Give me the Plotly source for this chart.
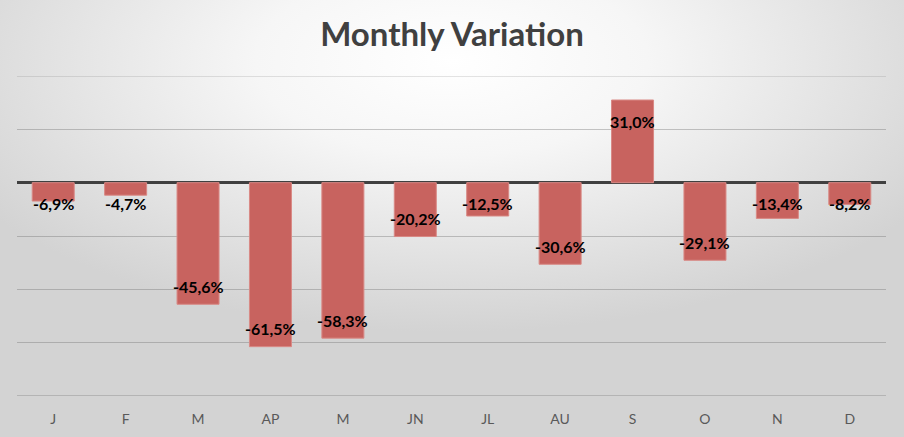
import base64
import plotly.graph_objects as go

# ---- data ----
months = ["J", "F", "M", "AP", "M", "JN", "JL", "AU", "S", "O", "N", "D"]
variation = [-6.9, -4.7, -45.6, -61.5, -58.3, -20.2, -12.5, -30.6, 31.0, -29.1, -13.4, -8.2]
y_range = [-80, 40]
y_ticks = [-80, -60, -40, -20, 0, 20, 40]

W, H = 904, 437
ML, MR, MT, MB = 17, 18, 76, 41
PW, PH = W - ML - MR, H - MT - MB
ppu = PH / (y_range[1] - y_range[0])  # pixels per percentage point

positions = list(range(len(months)))
labels = [f"{v:.1f}%".replace(".", ",") for v in variation]

# background radial gradient (chart area fill)
svg = f"""<svg xmlns='http://www.w3.org/2000/svg' width='{W}' height='{H}' viewBox='0 0 {W} {H}' preserveAspectRatio='none'>
<defs><radialGradient id='g' cx='50%' cy='14%' r='62%'>
<stop offset='0' stop-color='#ffffff'/><stop offset='0.35' stop-color='#f6f6f6'/><stop offset='1' stop-color='#d3d3d3'/>
</radialGradient></defs><rect x='0' y='0' width='{W}' height='{H}' fill='url(#g)'/></svg>"""
bg_uri = "data:image/svg+xml;base64," + base64.b64encode(svg.encode()).decode()

grid_col = "rgba(110,110,110,0.38)"

fig = go.Figure()
fig.add_trace(go.Bar(
    x=positions, y=variation, width=0.58,
    marker=dict(color="#C8635F", line=dict(color="#D98985", width=1)),
    hoverinfo="skip",
))

# data labels at inside end (Excel style)
for xi, v, t in zip(positions, variation, labels):
    if v < 0:
        ly = min(v + 18 / ppu, -21 / ppu)
    else:
        ly = max(v - 21 / ppu, 21 / ppu)
    fig.add_annotation(x=xi, y=ly, text=t, showarrow=False, xref="x", yref="y",
                       yanchor="middle", xanchor="center",
                       font=dict(family="Lato", size=16, color="#000000", weight="bold"))

# gridlines at the range edges (plotly skips them)
for gv in (y_ticks[0], y_ticks[-1]):
    fig.add_shape(type="line", xref="paper", yref="y", x0=0, x1=1, y0=gv, y1=gv,
                  line=dict(color=grid_col if gv > 0 else "rgba(100,100,100,0.55)", width=1),
                  layer="below")

fig.update_layout(
    width=W, height=H,
    margin=dict(l=ML, r=MR, t=MT, b=MB, pad=0, autoexpand=False),
    paper_bgcolor="#ffffff",
    plot_bgcolor="rgba(0,0,0,0)",
    showlegend=False,
    title=dict(text="<b>Monthly Variation</b>", x=0.5, xanchor="center",
               y=1 - 34 / H, yanchor="middle", yref="container", automargin=False,
               font=dict(family="Lato", size=33, color="#404040")),
    images=[dict(source=bg_uri, xref="paper", yref="paper",
                 x=-ML / PW, y=1 + MT / PH, sizex=W / PW, sizey=H / PH,
                 xanchor="left", yanchor="top", sizing="stretch", layer="below")],
    xaxis=dict(range=[-0.5, len(months) - 0.5], tickvals=positions, ticktext=months,
               showgrid=False, zeroline=False, showline=False, ticks="",
               ticklabelstandoff=13, automargin=False,
               tickfont=dict(family="Lato", size=14, color="#595959")),
    yaxis=dict(range=y_range, tickvals=y_ticks, showticklabels=False, automargin=False,
               showgrid=True, gridcolor=grid_col, gridwidth=1,
               zeroline=True, zerolinecolor="#404040", zerolinewidth=3,
               showline=False, ticks=""),
)

fig.write_html("out.html")
